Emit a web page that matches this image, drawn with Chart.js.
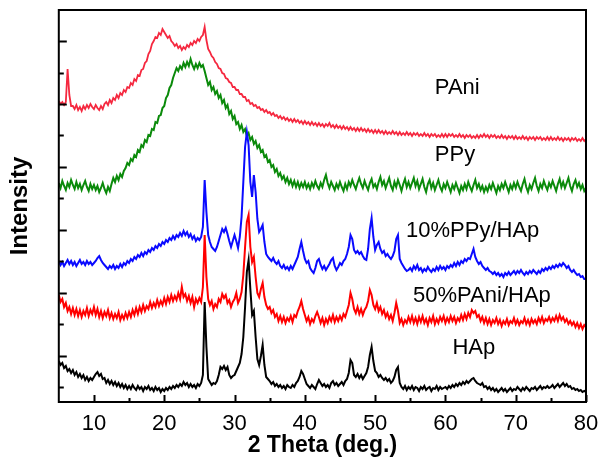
<!DOCTYPE html>
<html>
<head>
<meta charset="utf-8">
<script src="https://cdn.jsdelivr.net/npm/chart.js@4"></script>
<style>
html, body { margin: 0; padding: 0; background: #fff; }
</style>
</head>
<body>
<canvas id="chart" width="600" height="457"></canvas>
<script>
// XRD patterns, 2 theta from 5 to 80 deg in 0.25 deg steps, curves stacked with offsets
const thetaStart = 5;
const thetaStep = 0.25;
const thetaTicks = [10, 20, 30, 40, 50, 60, 70, 80];
const thetaMinorTicks = [15, 25, 35, 45, 55, 65, 75];
const seriesNames = ["HAp", "50%PAni/HAp", "10%PPy/HAp", "PPy", "PAni"];

const hap = [
    26, 22, 24, 19, 21, 16, 18, 14, 17, 12, 15, 10, 13, 9, 12, 7, 10, 6, 9, 7,
    10, 13, 15, 11, 13, 8, 9, 4, 7, 3, 6, 2, 5, 1, 4, 0, 3, -1, 2, -2,
    1, -2, 2, -1, -3, 1, -2, 0, -4, 0, -2, 1, -3, -1, -4, 0, -3, -1, -5, -2,
    -4, -1, -3, 0, -2, 1, -1, 2, 0, 3, 1, 5, 2, 4, 0, 3, 0, 2, -1, 3,
    1, 4, 12, 85, 40, 8, 5, 2, 4, 3, 6, 12, 20, 18, 21, 17, 20, 12, 9, 11,
    12, 16, 20, 24, 33, 50, 80, 115, 127, 98, 72, 76, 50, 28, 22, 31, 42, 22, 10, 8,
    6, 3, 5, 1, 3, 0, 2, -1, 1, -2, 2, 0, -1, 2, 0, 4, 6, 10, 16, 13,
    8, 3, 1, -1, 2, 0, -2, 3, 7, 4, 1, 3, 0, 2, -1, 4, 6, 2, 4, 1,
    3, 5, 2, 6, 8, 14, 27, 24, 12, 10, 13, 9, 12, 8, 11, 14, 20, 32, 40, 26,
    16, 14, 10, 12, 9, 7, 9, 6, 8, 4, 6, 10, 17, 20, 4, 0, -2, 1, -3, 0,
    -2, 1, -3, 0, -1, -4, 0, -2, 1, -3, -1, 0, -4, -1, -2, 1, -3, 0, -2, -1,
    0, -2, 1, -1, 2, 0, 3, 1, 4, 2, 5, 3, 6, 4, 6, 8, 9, 6, 4, 3,
    2, 4, 0, 1, -2, 0, -3, -1, -4, -2, -5, -3, -1, -4, -2, -5, -3, -1, -4, -2,
    -3, 0, -2, -4, -1, -3, 0, -2, -4, -1, -2, 0, -3, -1, 1, -2, 0, -1, 1, -1,
    0, 2, -1, 1, 3, 0, 2, 4, 1, 3, 0, 1, -2, -1, -3, -2, -4, -3, -5, -4,
    -5
];

const pani50Hap = [
    92, 85, 88, 80, 84, 76, 80, 73, 79, 72, 78, 71, 77, 70, 76, 72, 79, 71, 77, 73,
    80, 72, 78, 70, 76, 69, 75, 71, 77, 69, 74, 68, 73, 69, 75, 67, 72, 68, 74, 69,
    75, 70, 77, 72, 79, 73, 80, 75, 82, 76, 81, 78, 85, 79, 84, 80, 87, 81, 86, 82,
    89, 83, 90, 85, 92, 86, 91, 87, 94, 88, 100, 90, 93, 86, 91, 84, 90, 80, 88, 84,
    89, 85, 100, 152, 110, 88, 82, 86, 78, 83, 80, 88, 85, 93, 89, 92, 84, 87, 80, 85,
    88, 94, 84, 88, 95, 112, 140, 165, 172, 140, 125, 130, 110, 94, 90, 98, 104, 90, 82, 78,
    80, 74, 77, 70, 73, 66, 71, 65, 70, 64, 69, 66, 71, 65, 72, 70, 76, 80, 86, 78,
    72, 66, 70, 63, 68, 65, 71, 75, 70, 64, 69, 62, 68, 64, 70, 66, 72, 65, 70, 66,
    71, 67, 73, 70, 76, 82, 94, 88, 78, 74, 80, 73, 78, 72, 77, 80, 86, 97, 92, 82,
    78, 84, 76, 80, 73, 77, 70, 74, 68, 72, 66, 74, 84, 76, 64, 68, 62, 67, 64, 70,
    65, 71, 64, 69, 63, 70, 65, 71, 64, 68, 62, 69, 65, 71, 63, 68, 64, 70, 66, 71,
    64, 69, 65, 71, 66, 70, 64, 69, 66, 72, 67, 73, 68, 74, 70, 77, 74, 76, 70, 72,
    66, 70, 64, 69, 63, 68, 62, 67, 64, 69, 63, 67, 61, 66, 63, 68, 62, 66, 64, 69,
    63, 67, 62, 66, 64, 69, 63, 67, 62, 68, 64, 67, 63, 69, 65, 70, 64, 68, 66, 70,
    65, 69, 66, 71, 66, 72, 67, 70, 65, 68, 63, 66, 62, 65, 60, 64, 59, 63, 58, 62,
    60
];

const ppy10Hap = [
    126, 122, 125, 121, 124, 127, 123, 126, 122, 125, 121, 124, 127, 123, 125, 122, 126, 123, 125, 122,
    124, 126, 129, 131, 127, 124, 122, 120, 118, 121, 119, 122, 118, 121, 119, 123, 120, 124, 122, 126,
    124, 128, 126, 130, 128, 132, 130, 134, 131, 135, 133, 137, 135, 139, 137, 141, 139, 143, 141, 145,
    143, 147, 145, 149, 147, 151, 148, 152, 150, 154, 151, 156, 152, 155, 150, 153, 148, 151, 146, 149,
    147, 150, 160, 207, 175, 152, 145, 140, 138, 136, 140, 146, 152, 158, 155, 159, 153, 146, 140, 146,
    152, 146, 139, 150, 170, 205, 240, 255, 242, 205, 190, 212, 195, 168, 155, 158, 162, 145, 133, 130,
    128, 126, 129, 125, 123, 126, 121, 119, 122, 118, 120, 117, 121, 118, 122, 126, 130, 138, 145, 136,
    128, 124, 126, 119, 116, 114, 119, 126, 128, 122, 118, 121, 117, 120, 123, 127, 129, 121, 117, 120,
    124, 122, 126, 128, 133, 140, 152, 148, 137, 134, 136, 133, 135, 131, 128, 127, 138, 158, 169, 150,
    137, 142, 145, 138, 134, 136, 131, 133, 130, 128, 131, 136, 148, 152, 128, 124, 121, 118, 116, 117,
    119, 116, 121, 118, 122, 117, 119, 115, 118, 116, 120, 117, 115, 118, 116, 120, 117, 121, 118, 120,
    117, 121, 119, 122, 120, 124, 121, 125, 122, 126, 124, 128, 126, 129, 128, 133, 138, 130, 126, 123,
    125, 121, 119, 117, 119, 116, 115, 113, 115, 112, 114, 111, 113, 110, 114, 112, 115, 112, 114, 116,
    113, 116, 114, 117, 114, 112, 115, 113, 116, 114, 117, 115, 113, 116, 114, 118, 116, 119, 117, 120,
    118, 121, 119, 122, 120, 123, 121, 124, 122, 119, 121, 117, 115, 117, 114, 112, 113, 110, 111, 108,
    108
];

const ppy = [
    204, 199, 206, 201, 197, 204, 200, 207, 202, 198, 205, 199, 203, 197, 202, 206, 200, 196, 203, 198,
    202, 197, 201, 195, 199, 204, 198, 194, 200, 196, 203, 209, 205, 211, 207, 213, 210, 216, 219, 224,
    222, 228, 226, 232, 230, 237, 235, 242, 240, 247, 245, 252, 251, 258, 257, 265, 264, 271, 272, 279,
    281, 289, 292, 299, 302, 309, 314, 319, 316, 321, 318, 324, 320, 325, 321, 328, 322, 318, 323, 319,
    324, 320, 322, 316, 309, 302, 305, 297, 300, 293, 296, 289, 292, 284, 287, 279, 282, 273, 276, 268,
    271, 263, 265, 258, 262, 255, 258, 251, 254, 247, 250, 243, 246, 239, 242, 235, 237, 230, 232, 225,
    227, 220, 222, 215, 218, 211, 214, 208, 211, 205, 209, 203, 207, 201, 206, 200, 205, 199, 204, 200,
    205, 199, 203, 198, 204, 200, 206, 201, 198, 204, 200, 207, 212, 204, 199, 205, 201, 197, 203, 199,
    205, 200, 196, 203, 198, 205, 201, 207, 202, 198, 204, 209, 203, 199, 206, 201, 197, 204, 208, 200,
    203, 198, 205, 210, 202, 206, 199, 204, 209, 201, 197, 205, 200, 207, 202, 196, 203, 208, 200, 205,
    199, 204, 209, 201, 206, 198, 203, 208, 200, 195, 203, 207, 199, 204, 197, 202, 207, 200, 196, 203,
    199, 205, 200, 195, 202, 198, 204, 199, 194, 201, 197, 203, 198, 205, 200, 196, 202, 207, 199, 203,
    197, 201, 195, 200, 196, 202, 198, 204, 199, 194, 201, 197, 203, 199, 205, 200, 195, 202, 198, 204,
    199, 205, 200, 196, 203, 208, 200, 195, 202, 198, 204, 209, 201, 196, 203, 199, 206, 201, 197, 204,
    200, 206, 201, 196, 203, 208, 200, 205, 199, 204, 209, 201, 196, 203, 207, 200, 204, 198, 202, 196,
    199
];

const pani = [
    286, 283, 285, 282, 285, 318, 292, 281, 281, 278, 282, 277, 280, 276, 281, 278, 282, 279, 283, 280,
    278, 282, 279, 277, 281, 278, 283, 285, 282, 287, 284, 289, 287, 292, 289, 294, 292, 297, 295, 300,
    299, 304, 302, 308, 306, 312, 311, 317, 318, 324, 326, 333, 336, 343, 346, 350, 349, 354, 352, 358,
    355, 352, 349, 351, 346, 344, 341, 343, 339, 341, 337, 340, 338, 342, 340, 344, 342, 346, 344, 348,
    346, 350, 352, 360, 347, 338, 335, 331, 329, 325, 323, 319, 318, 314, 313, 309, 308, 305, 304, 300,
    300, 297, 297, 293, 293, 290, 290, 286, 287, 283, 284, 281, 282, 279, 280, 277, 278, 275, 277, 274,
    275, 272, 274, 271, 272, 269, 271, 268, 270, 267, 269, 266, 268, 265, 268, 265, 267, 264, 266, 263,
    266, 263, 265, 262, 265, 262, 264, 261, 264, 261, 263, 260, 263, 261, 264, 260, 262, 259, 262, 259,
    261, 258, 261, 258, 260, 257, 260, 257, 259, 256, 259, 256, 259, 256, 258, 255, 258, 255, 257, 254,
    257, 254, 257, 254, 256, 253, 256, 253, 255, 253, 256, 253, 255, 252, 255, 252, 254, 252, 255, 252,
    254, 251, 254, 252, 254, 251, 253, 251, 254, 251, 253, 250, 253, 251, 253, 250, 252, 250, 253, 250,
    253, 250, 253, 251, 253, 250, 252, 250, 253, 250, 252, 249, 252, 250, 252, 249, 251, 249, 252, 249,
    252, 250, 253, 250, 252, 249, 252, 250, 252, 249, 251, 249, 252, 249, 251, 248, 251, 249, 251, 248,
    251, 248, 250, 248, 251, 248, 250, 247, 250, 248, 250, 247, 250, 248, 250, 247, 249, 247, 250, 247,
    250, 247, 249, 247, 250, 247, 249, 246, 249, 247, 249, 246, 249, 247, 249, 246, 248, 246, 249, 246,
    248
];

// 2 theta grid shared by all patterns
const twoTheta = hap.map((_, i) => thetaStart + i * thetaStep);

// spacing of the (unlabelled) intensity ticks
const yTickStep = 31.45;
const yTickCount = 12;

// where each curve name sits: [2 theta, intensity]
const labelAnchors = [[61.0, 39], [55.4, 91], [54.4, 156], [58.5, 232], [58.5, 299]];

const seriesColors = ["#000000", "#ff0000", "#0a0aff", "#0a8a0a", "#f5283f"];
const seriesWidths = [2, 2, 2, 2, 1.8];

const FONT = "'Liberation Sans', Arial, sans-serif";

// box round the plot plus inward ticks on left and bottom
const frameAndTicks = {
    id: "frameAndTicks",
    afterDraw(chart) {
        const { ctx, chartArea: a, scales: { x, y } } = chart;
        ctx.save();
        ctx.strokeStyle = "#000";
        ctx.lineWidth = 2;
        ctx.strokeRect(a.left, a.top, a.right - a.left, a.bottom - a.top);

        ctx.beginPath();
        thetaTicks.forEach(t => {
            const px = Math.round(x.getPixelForValue(t)) + 0.5;
            ctx.moveTo(px, a.bottom);
            ctx.lineTo(px, a.bottom - 7);
        });
        thetaMinorTicks.forEach(t => {
            const px = Math.round(x.getPixelForValue(t)) + 0.5;
            ctx.moveTo(px, a.bottom);
            ctx.lineTo(px, a.bottom - 4);
        });
        for (let k = 0; k < yTickCount; k++) {
            const py = Math.round(y.getPixelForValue(k * yTickStep)) + 0.5;
            ctx.moveTo(a.left, py);
            ctx.lineTo(a.left + (k % 2 ? 8 : 5), py);
        }
        ctx.stroke();
        ctx.restore();
    }
};

// curve names written beside each pattern
const curveNames = {
    id: "curveNames",
    afterDraw(chart) {
        const { ctx, scales: { x, y } } = chart;
        ctx.save();
        ctx.fillStyle = "#000";
        ctx.font = "22px " + FONT;
        ctx.textAlign = "left";
        ctx.textBaseline = "middle";
        seriesNames.forEach((name, i) => {
            const [t, v] = labelAnchors[i];
            ctx.fillText(name, x.getPixelForValue(t), y.getPixelForValue(v));
        });
        ctx.restore();
    }
};

const datasets = [hap, pani50Hap, ppy10Hap, ppy, pani].map((ys, i) => ({
    label: seriesNames[i],
    data: twoTheta.map((t, j) => ({ x: t, y: ys[j] })),
    borderColor: seriesColors[i],
    borderWidth: seriesWidths[i],
    pointRadius: 0,
    tension: 0,
    fill: false
}));

new Chart(document.getElementById("chart").getContext("2d"), {
    type: "line",
    data: { datasets },
    options: {
        responsive: false,
        animation: false,
        layout: { padding: { top: 10, right: 14, bottom: 0, left: 4 } },
        plugins: { legend: { display: false }, tooltip: { enabled: false } },
        scales: {
            x: {
                type: "linear",
                min: 5,
                max: 80,
                grid: { display: false, drawTicks: false },
                border: { display: false },
                afterBuildTicks: axis => { axis.ticks = thetaTicks.map(v => ({ value: v })); },
                // the "80" label may hang past the plot edge
                afterFit: axis => { axis.paddingLeft = 0; axis.paddingRight = 0; },
                ticks: {
                    color: "#000",
                    font: { family: FONT, size: 22, lineHeight: 1 },
                    padding: 11,
                    maxRotation: 0,
                    autoSkip: false
                },
                title: {
                    display: true,
                    text: "2 Theta (deg.)",
                    color: "#000",
                    font: { family: FONT, size: 23, weight: "bold", lineHeight: 1 },
                    padding: { top: -12, bottom: 0 }
                }
            },
            y: {
                type: "linear",
                min: -15,
                max: 377,
                grid: { display: false, drawTicks: false },
                border: { display: false },
                ticks: { display: false },
                title: {
                    display: true,
                    text: "Intensity",
                    color: "#000",
                    font: { family: FONT, size: 24, weight: "bold" },
                    padding: { top: 2, bottom: 24 }
                }
            }
        }
    },
    plugins: [frameAndTicks, curveNames]
});
</script>
</body>
</html>
